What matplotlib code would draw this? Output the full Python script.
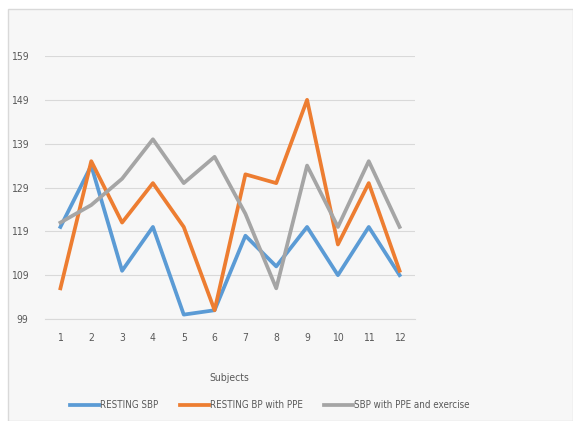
import matplotlib.pyplot as plt
from matplotlib.patches import Rectangle

# blood pressure readings per subject
subjects = [1, 2, 3, 4, 5, 6, 7, 8, 9, 10, 11, 12]
resting_sbp = [120, 134, 110, 120, 100, 101, 118, 111, 120, 109, 120, 109]
resting_ppe = [106, 135, 121, 130, 120, 101, 132, 130, 149, 116, 130, 110]
sbp_ppe_exercise = [121, 125, 131, 140, 130, 136, 123, 106, 134, 120, 135, 120]
y_ticks = [99, 109, 119, 129, 139, 149, 159]

plt.rcParams['font.family'] = ['Liberation Sans Narrow', 'DejaVu Sans']
plt.rcParams['font.stretch'] = 'condensed'
txt = '#595959'

fig = plt.figure(figsize=(5.73, 4.21), dpi=100)
fig.patch.set_facecolor('white')
# chart area frame
fig.patches.append(Rectangle((8 / 573, 0), 1 - 8 / 573, 1 - 9 / 421, transform=fig.transFigure,
                             facecolor='#f7f7f7', edgecolor='#d9d9d9', lw=1, zorder=-5))

ax = fig.add_axes([45 / 573, 1 - 319 / 421, 370 / 573, 263 / 421])
ax.set_facecolor('none')
ax.set_zorder(2)

ax.plot(subjects, resting_sbp, color='#5B9BD5', lw=2.7, label='RESTING SBP')
ax.plot(subjects, resting_ppe, color='#ED7D31', lw=2.7, label='RESTING BP with PPE')
ax.plot(subjects, sbp_ppe_exercise, color='#A5A5A5', lw=2.7, label='SBP with PPE and exercise')

ax.set_xlim(0.5, 12.5)
ax.set_ylim(99, 159)
ax.set_yticks(y_ticks)
ax.set_xticks(subjects)
ax.grid(axis='y', color='#d9d9d9', lw=0.8)
ax.set_axisbelow(True)
for s in ['top', 'right', 'left']:
    ax.spines[s].set_visible(False)
ax.spines['bottom'].set_color('#d9d9d9')
ax.tick_params(length=0, labelsize=7.5, colors=txt, pad=10)
ax.tick_params(axis='y', pad=12)

fig.text(229 / 573, 1 - 378 / 421, 'Subjects', ha='center', va='center', fontsize=7.5, color=txt)
fig.legend(loc='center', bbox_to_anchor=(270 / 573, 1 - 405 / 421), ncol=3, frameon=False,
           fontsize=7, labelcolor=txt, handlelength=3.0, handletextpad=0.1, columnspacing=2.2)

fig.savefig('out.png', dpi=100)
